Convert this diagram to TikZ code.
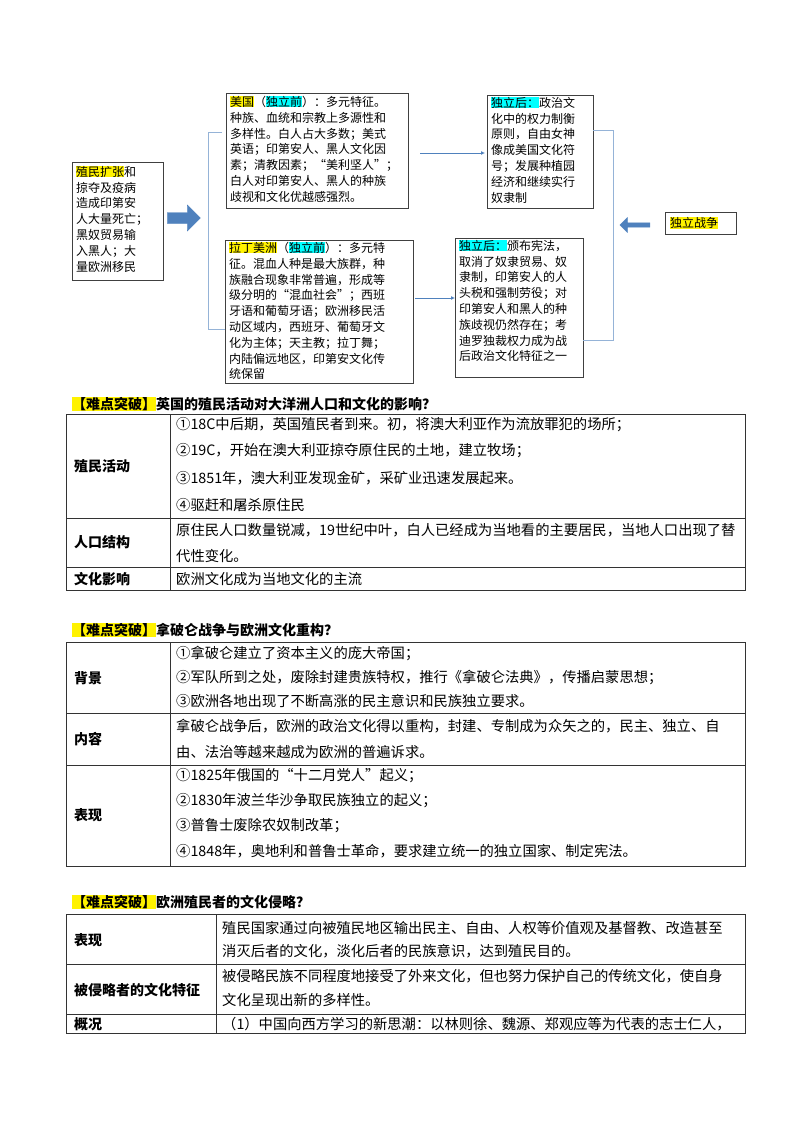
\documentclass[tikz,border=0pt]{standalone}
\usepackage{fontspec}
\setmainfont{Noto Sans CJK SC}
\usepackage{xcolor}
\usetikzlibrary{shapes.arrows,arrows.meta}
\definecolor{barrow}{HTML}{4F81BD}
\definecolor{bline}{HTML}{95B3D7}
\definecolor{hcyan}{HTML}{00FFFF}
\newcommand{\hly}[1]{{\setlength{\fboxsep}{0pt}\colorbox{yellow}{#1}}}
\newcommand{\hlc}[1]{{\setlength{\fboxsep}{0pt}\colorbox{hcyan}{#1}}}
\begin{document}
\begin{tikzpicture}[x=1pt,y=-1pt,
  box/.style={draw=black!75,line width=0.8pt,anchor=north west,inner sep=0pt},
  btxt/.style={anchor=north west,align=left,inner sep=0pt,font=\fontsize{12}{15.8}\selectfont},
  head/.style={anchor=west,inner sep=0pt,font=\fontsize{14}{16}\selectfont\bfseries},
  lab/.style={anchor=west,inner sep=0pt,font=\fontsize{14}{16}\selectfont\bfseries},
  cell/.style={anchor=west,inner sep=0pt,font=\fontsize{14.3}{16}\selectfont},
  tline/.style={draw=black!80,line width=0.8pt},
  conn/.style={draw=barrow,line width=1pt,-{Latex[length=4pt,width=4pt]}},
  brk/.style={draw=bline,line width=0.8pt}]
\useasboundingbox (0,0) rectangle (800,1132);
% ---------- top diagram ----------
\draw[box] (72,162) rectangle (163,280);
\node[btxt] (l) at (76,166) {\hly{殖民扩张}和\\掠夺及疫病\\造成印第安\\人大量死亡；\\黑奴贸易输\\入黑人；大\\量欧洲移民};
\node[single arrow,fill=barrow,draw=barrow,minimum height=33pt,minimum width=26pt,single arrow head extend=3pt,inner sep=2pt] (ba) at (181,218) {};
\coordinate (lt) at (208,132); \coordinate (lb) at (208,329);
\draw[box] (226,93) rectangle (408,208);
\node[btxt] (a) at (230,96) {\hly{美国}（\hlc{独立前}）：多元特征。\\种族、血统和宗教上多源性和\\多样性。白人占大多数；美式\\英语；印第安人、黑人文化因\\素；清教因素；“美利坚人”；\\白人对印第安人、黑人的种族\\歧视和文化优越感强烈。};
\draw[box] (225,240) rectangle (413,383);
\node[btxt] (b) at (229,242) {\hly{拉丁美洲}（\hlc{独立前}）：多元特\\征。混血人种是最大族群，种\\族融合现象非常普遍，形成等\\级分明的“混血社会”；西班\\牙语和葡萄牙语；欧洲移民活\\动区域内，西班牙、葡萄牙文\\化为主体；天主教；拉丁舞；\\内陆偏远地区，印第安文化传\\统保留};
\draw[brk] (222,132) -- (lt) -- (lb) -- (225,329);
\draw[box] (487,95) rectangle (593,208);
\node[btxt] (c) at (491,97) {\hlc{独立后：}政治文\\化中的权力制衡\\原则，自由女神\\像成美国文化符\\号；发展种植园\\经济和继续实行\\奴隶制};
\draw[box] (455,238) rectangle (583,377);
\node[btxt] (d) at (459,240) {\hlc{独立后：}颁布宪法，\\取消了奴隶贸易、奴\\隶制，印第安人的人\\头税和强制劳役；对\\印第安人和黑人的种\\族歧视仍然存在；考\\迪罗独裁权力成为战\\后政治文化特征之一};
\coordinate (r1) at (613,130); \coordinate (r2) at (613,340);
\draw[brk] (593,130) -- (r1) -- (r2) -- (583,340);
\draw[conn] (420,153) -- (485,153);
\draw[conn] (415,298) -- (455,298);
\draw[box] (665,212) rectangle (736,234);
\node[btxt,anchor=west] (w) at (670,223) {\hly{独立战争}};
\node[single arrow,fill=barrow,draw=barrow,minimum height=30pt,minimum width=15pt,single arrow head extend=3pt,inner sep=1pt,shape border rotate=180] (wa) at (636,225) {};
% ---------- table 1 ----------
\node[head] (h1) at (72,404) {\hly{【难点突破】}英国的殖民活动对大洋洲人口和文化的影响？};
\draw[tline] (66,414) rectangle (745,590);
\draw[tline] (66,518) -- (745,518) (66,567) -- (745,567) (170,414) -- (170,590);
\node[lab] at (74,466) {殖民活动};
\node[lab] at (74,542) {人口结构};
\node[lab] at (74,579) {文化影响};
\node[cell] at (176,425) {①18C中后期，英国殖民者到来。初，将澳大利亚作为流放罪犯的场所；};
\node[cell] at (176,451) {②19C，开始在澳大利亚掠夺原住民的土地，建立牧场；};
\node[cell] at (176,478) {③1851年，澳大利亚发现金矿，采矿业迅速发展起来。};
\node[cell] at (176,505) {④驱赶和屠杀原住民};
\node[cell] at (176,530) {原住民人口数量锐减，19世纪中叶，白人已经成为当地看的主要居民，当地人口出现了替};
\node[cell] at (176,556) {代性变化。};
\node[cell] at (176,579) {欧洲文化成为当地文化的主流};
% ---------- table 2 ----------
\node[head] (h2) at (72,630) {\hly{【难点突破】}拿破仑战争与欧洲文化重构？};
\draw[tline] (66,642) rectangle (745,866);
\draw[tline] (66,713) -- (745,713) (66,765) -- (745,765) (170,642) -- (170,866);
\node[lab] at (74,678) {背景};
\node[lab] at (74,739) {内容};
\node[lab] at (74,815) {表现};
\node[cell] at (176,653) {①拿破仑建立了资本主义的庞大帝国；};
\node[cell] at (176,677) {②军队所到之处，废除封建贵族特权，推行《拿破仑法典》，传播启蒙思想；};
\node[cell] at (176,701) {③欧洲各地出现了不断高涨的民主意识和民族独立要求。};
\node[cell] at (176,726) {拿破仑战争后，欧洲的政治文化得以重构，封建、专制成为众矢之的，民主、独立、自};
\node[cell] at (176,752) {由、法治等越来越成为欧洲的普遍诉求。};
\node[cell] at (176,776) {①1825年俄国的“十二月党人”起义；};
\node[cell] at (176,801) {②1830年波兰华沙争取民族独立的起义；};
\node[cell] at (176,826) {③普鲁士废除农奴制改革；};
\node[cell] at (176,851) {④1848年，奥地利和普鲁士革命，要求建立统一的独立国家、制定宪法。};
% ---------- table 3 ----------
\node[head] (h3) at (72,902) {\hly{【难点突破】}欧洲殖民者的文化侵略？};
\draw[tline] (66,914) rectangle (745,1033);
\draw[tline] (66,964) -- (745,964) (66,1014) -- (745,1014) (216,914) -- (216,1033);
\node[lab] at (74,940) {表现};
\node[lab] at (74,990) {被侵略者的文化特征};
\node[lab] at (74,1024) {概况};
\node[cell] at (222,928) {殖民国家通过向被殖民地区输出民主、自由、人权等价值观及基督教、改造甚至};
\node[cell] at (222,951) {消灭后者的文化，淡化后者的民族意识，达到殖民目的。};
\node[cell] at (222,976) {被侵略民族不同程度地接受了外来文化，但也努力保护自己的传统文化，使自身};
\node[cell] at (222,1000) {文化呈现出新的多样性。};
\node[cell] at (222,1024) {（1）中国向西方学习的新思潮：以林则徐、魏源、郑观应等为代表的志士仁人，};
\end{tikzpicture}
\end{document}
